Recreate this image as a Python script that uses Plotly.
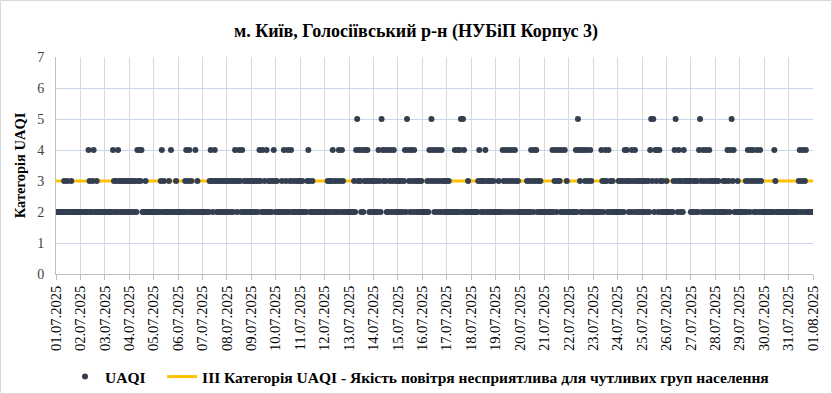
import pandas as pd
import plotly.graph_objects as go

# ---------------- data (hourly UAQI category, 01.07.2025 00:00 .. 01.08.2025 00:00) ----------------
start_time = "2025-07-01 00:00"
end_time = "2025-08-01 00:00"
n_hours = 745
base_category = 2          # every hour not listed below is category 2
threshold_category = 3     # III category line

category5_hours = [296, 320, 345, 369, 398, 400, 513, 585, 587, 609, 633, 664]

category4_hours = [32, 37, 56, 61, 80, 82, 84, 104, 113, 128, 131, 137, 152, 156, 176, 180, 183,
                   200, 203, 207, 214, 224, 228, 231, 248, 272, 278, 281, 295, 298, 301, 304, 306,
                   317, 321, 323, 326, 329, 332, 343, 346, 349, 352, 367, 370, 373, 376, 379, 392,
                   395, 397, 401, 416, 422, 439, 442, 445, 448, 451, 467, 470, 472, 488, 491, 494,
                   497, 500, 511, 514, 517, 519, 522, 525, 536, 540, 543, 559, 561, 566, 569, 584,
                   589, 591, 593, 608, 612, 617, 632, 636, 639, 642, 660, 663, 666, 680, 683, 685,
                   689, 692, 706, 731, 734, 737]

category3_hours = [8, 11, 15, 33, 36, 40,
                   57, 59, 62, 64, 66, 68, 70, 72, 74, 76, 78, 81, 83,
                   88, 103, 106, 111, 118, 127, 130, 133, 139,
                   151, 153, 155, 157, 159, 161, 163, 165, 167, 169, 171, 173, 175, 177, 179, 181,
                   185, 187, 189, 191, 193, 195, 197, 199, 201, 205, 209, 211, 213, 215, 217,
                   222, 226, 230, 233, 236, 238, 240, 242, 247, 249, 252, 267, 269, 271, 274, 276,
                   279, 282,
                   293, 297, 299, 303, 305, 307, 309, 311, 313, 315, 318, 322, 324, 328, 331, 334,
                   336, 338, 340, 342, 347, 350, 353, 355, 357, 359,
                   365, 368, 371, 374, 377, 380, 382, 384, 386,
                   405, 415, 417, 419, 421, 424, 426, 428, 430, 435,
                   440, 443, 446, 449, 452, 454, 463, 465, 468, 471, 474, 476,
                   490, 493, 495, 502, 515, 520, 523, 526, 537, 539, 541, 545, 547,
                   553, 555, 557, 560, 562, 564, 567, 570, 572, 574, 576, 578, 580, 582, 586, 590,
                   594, 596,
                   600, 607, 610, 613, 615, 618, 619, 620, 621, 622, 623, 626, 628, 630, 634, 637,
                   640, 643, 645, 647, 649, 651,
                   656, 658, 661, 665, 670, 678, 681, 684, 687, 690, 693, 707, 730, 733, 736]

title_text = "м. Київ, Голосіївський р-н (НУБіП Корпус 3)"
y_title = "Категорія UAQI"
series_name = "UAQI"
threshold_name = "ІІІ Категорія UAQI - Якість повітря несприятлива для чутливих груп населення"

# ---------------- build series ----------------
values = [base_category] * n_hours
for h in category3_hours:
    values[h] = 3
for h in category4_hours:
    values[h] = 4
for h in category5_hours:
    values[h] = 5
times = pd.Timestamp(start_time) + pd.to_timedelta(list(range(n_hours)), unit="h")

FONT = "Liberation Serif"
DARK = "#333F50"
YELLOW = "#FFC000"

fig = go.Figure()
fig.add_trace(go.Scatter(
    x=[pd.Timestamp(start_time), pd.Timestamp(end_time)],
    y=[threshold_category, threshold_category],
    mode="lines", line=dict(color=YELLOW, width=3),
    name="<b>" + threshold_name + "</b>", legendrank=2, hoverinfo="skip"))
fig.add_trace(go.Scatter(
    x=times, y=values, mode="markers",
    marker=dict(color=DARK, size=6, line=dict(width=0)),
    name="<b>" + series_name + "</b>" + "\u00a0" * 3, legendrank=1))

W, H = 832, 394
L, R, T, B = 56, 19, 57, 120
pw, ph = W - L - R, H - T - B

fig.update_layout(
    width=W, height=H,
    margin=dict(l=L, r=R, t=T, b=B, autoexpand=False),
    paper_bgcolor="white", plot_bgcolor="white",
    font=dict(family=FONT, color="#000000"),
    title=dict(text="<b>" + title_text + "</b>", x=0.5, xanchor="center",
               y=1 - 31 / H, yanchor="middle", font=dict(family=FONT, size=18, color="#000000")),
    showlegend=True,
    legend=dict(orientation="h", xref="container", yref="container",
                x=65 / W, xanchor="left", y=(H - 377) / H, yanchor="middle",
                font=dict(family=FONT, size=15.5, color="#000000"),
                traceorder="normal", itemwidth=30, bgcolor="rgba(0,0,0,0)"),
    shapes=[dict(type="rect", xref="paper", yref="paper",
                 x0=(0.5 - L) / pw, x1=(W - 0.5 - L) / pw,
                 y0=-(B - 0.5) / ph, y1=(T - 0.5) / ph + 1,
                 line=dict(color="#D9D9D9", width=1), fillcolor="rgba(0,0,0,0)", layer="below")],
)

fig.update_xaxes(
    type="date", range=[pd.Timestamp(start_time), pd.Timestamp(end_time)],
    dtick=86400000, tick0=pd.Timestamp(start_time), tickformat="%d.%m.%Y",
    tickangle=-90, tickfont=dict(family=FONT, size=14.5, color="#000000"),
    showgrid=True, gridcolor="#D9D9D9", gridwidth=1,
    showline=True, linecolor="#BFBFBF", linewidth=1,
    ticks="outside", ticklen=5, tickcolor="#BFBFBF",
    zeroline=False, automargin=False,
)
fig.update_yaxes(
    range=[0, 7], dtick=1, tick0=0,
    tickfont=dict(family=FONT, size=14, color="#404040"),
    showgrid=True, gridcolor="#C9D6EA", gridwidth=1,
    showline=True, linecolor="#BFBFBF", linewidth=1,
    ticks="", zeroline=False, ticklabelstandoff=8, automargin=False,
    title=dict(text="<b>" + y_title + "</b>", font=dict(family=FONT, size=14.5, color="#000000"),
               standoff=8),
)

fig.write_html("out.html", config={"displayModeBar": False},
               post_script="document.body.style.margin='0';")
